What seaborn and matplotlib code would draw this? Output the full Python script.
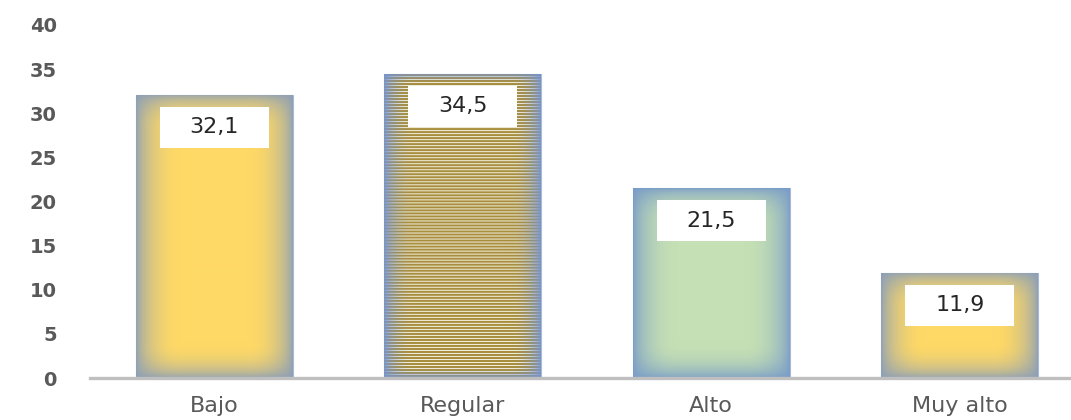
import numpy as np
import pandas as pd
import matplotlib
matplotlib.use("Agg")
import matplotlib.pyplot as plt
import seaborn as sns
from matplotlib.patches import Rectangle

categories = ["Bajo", "Regular", "Alto", "Muy alto"]
values = [32.1, 34.5, 21.5, 11.9]
value_labels = ["32,1", "34,5", "21,5", "11,9"]
y_ticks = [0, 5, 10, 15, 20, 25, 30, 35, 40]

sns.set_theme(style="white")
plt.rcParams["font.family"] = ["DejaVu Sans"]

W, H = 1071, 420
fig = plt.figure(figsize=(W / 100, H / 100), dpi=100)
ax = fig.add_axes([90 / W, 42 / H, (1084 - 90) / W, (378 - 25) / H])

df = pd.DataFrame({"cat": categories, "val": values})
sns.barplot(data=df, x="cat", y="val", order=categories, width=0.63,
            color="#FFD966", saturation=1, ax=ax, zorder=2)

ax.set_ylim(0, 40)
ax.set_xlim(-0.5, 3.5)
ax.set_yticks(y_ticks)
ax.set_yticklabels([str(t) for t in y_ticks], fontsize=14, fontweight="bold", color="#595959")
ax.tick_params(axis="y", length=0, pad=24)
ax.tick_params(axis="x", length=0, pad=13, labelsize=16, labelcolor="#595959")
ax.set_xlabel("")
ax.set_ylabel("")
for s in ["top", "right", "left"]:
    ax.spines[s].set_visible(False)
ax.spines["bottom"].set_color("#BFBFBF")
ax.spines["bottom"].set_linewidth(2.4)
ax.spines["bottom"].set_zorder(5)

yellow = np.array([255, 217, 102]) / 255
edge_y = np.array([138, 158, 185]) / 255
green = np.array([197, 224, 180]) / 255
edge_g = np.array([120, 155, 200]) / 255
stripe_dark = np.array([168, 142, 62]) / 255
stripe_light = np.array([242, 238, 220]) / 255
edge_s = np.array([118, 148, 205]) / 255


def smooth_weight(wpx, hpx, band_x, band_y, gamma=0.6):
    xs = np.arange(wpx) + 0.5
    ys = np.arange(hpx) + 0.5
    dx = np.minimum(xs, wpx - xs)
    dy = np.minimum(ys, hpx - ys)
    fx = np.clip(dx / band_x, 0, 1)
    fy = np.clip(dy / band_y, 0, 1)
    fx = (np.sin(fx * np.pi / 2)) ** gamma
    fy = (np.sin(fy * np.pi / 2)) ** gamma
    return fy[:, None] * fx[None, :]


def blend(t, center, edge):
    return edge[None, None, :] * (1 - t[..., None]) + center * t[..., None]


fig.canvas.draw()
trans = ax.transData
for i, patch in enumerate(ax.patches):
    x0, y0 = patch.get_x(), patch.get_y()
    w, h = patch.get_width(), patch.get_height()
    p0 = trans.transform((x0, y0))
    p1 = trans.transform((x0 + w, y0 + h))
    wpx = int(round(p1[0] - p0[0]))
    hpx = int(round(p1[1] - p0[1]))
    if i == 1:
        rows = np.arange(hpx)
        light = ((rows % 3) == 0).astype(float)[:, None, None]
        stripes = stripe_light[None, None, :] * light + stripe_dark[None, None, :] * (1 - light)
        stripes = np.broadcast_to(stripes, (hpx, wpx, 3))
        t = smooth_weight(wpx, hpx, 30, 12, gamma=0.7)
        img = blend(t, stripes, edge_s)
        interp = "antialiased"
    elif i == 2:
        t = smooth_weight(wpx, hpx, 45, 35)
        img = blend(t, green[None, None, :], edge_g)
        interp = "bilinear"
    else:
        t = smooth_weight(wpx, hpx, 45, 35)
        img = blend(t, yellow[None, None, :], edge_y)
        interp = "bilinear"
    im = ax.imshow(img, extent=(x0, x0 + w, y0, y0 + h), origin="upper",
                   aspect="auto", interpolation=interp, zorder=3)
    im.set_clip_path(patch)
    patch.set_edgecolor("#A9B9D4")
    patch.set_linewidth(0.8)

ax.set_xlim(-0.5, 3.5)
ax.set_ylim(0, 40)

# value label boxes
px_per_unit = (378 - 25) / 40.0
box_h = 41 / px_per_unit
box_gap = 12 / px_per_unit
box_w = 109 / 249.0
for i, (v, lab) in enumerate(zip(values, value_labels)):
    top = v - box_gap
    ax.add_patch(Rectangle((i - box_w / 2, top - box_h), box_w, box_h,
                           facecolor="white", edgecolor="none", zorder=6))
    ax.text(i, top - box_h / 2, lab, ha="center", va="center", fontsize=16,
            color="#262626", zorder=7)

fig.savefig("out.png", dpi=100, facecolor="white")
